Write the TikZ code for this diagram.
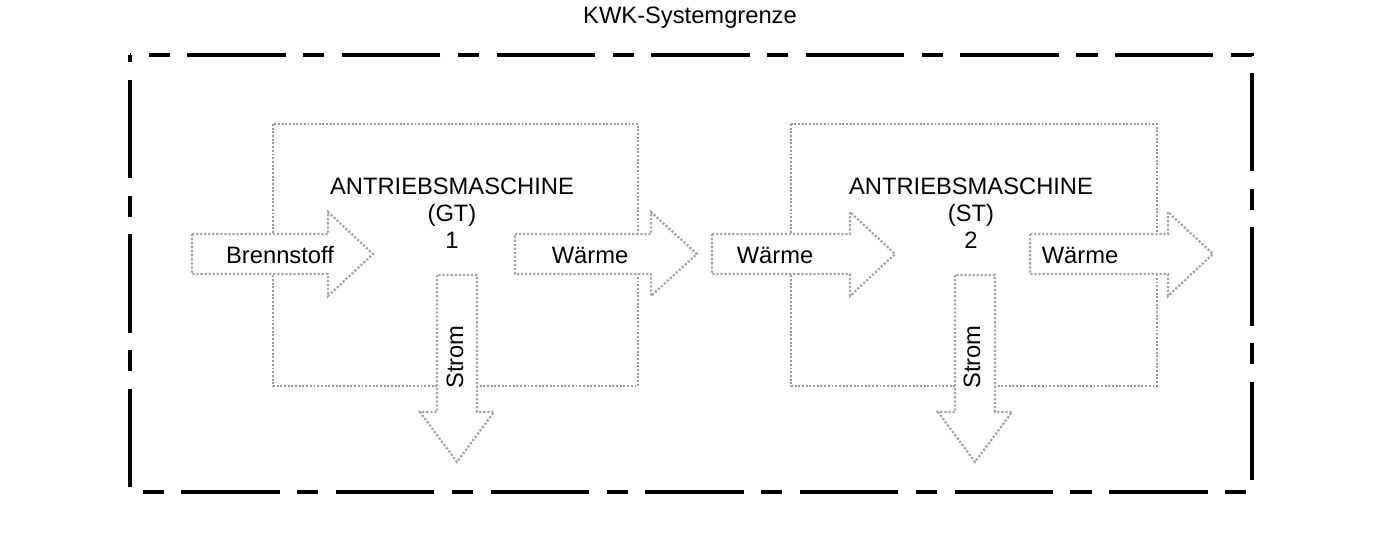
\documentclass[tikz,border=0pt]{standalone}
\usepackage{fontspec}
\setmainfont{Liberation Sans}
\usetikzlibrary{calc}

\tikzset{
  grenze/.style={line width=2.3pt, dash pattern={on 56pt off 10pt on 12pt off 10pt}, dash phase=74pt},
  maschine/.style={draw=gray!80, line width=1.1pt, densely dotted},
  strompfeil/.style={draw=gray!70, fill=white, line width=1.3pt, densely dotted, line join=miter},
  beschrift/.style={font=\fontsize{13.5}{15.5}\selectfont, inner sep=1pt}
}

% Pfeil nach rechts: Anfang, Spitze, Kopfansatz, Mitte y
\newcommand{\pfeilrechts}[4]{%
  \draw[strompfeil] (#1,#4-20) -- (#3,#4-20) -- (#3,#4-42) -- (#2,#4)
    -- (#3,#4+42) -- (#3,#4+20) -- (#1,#4+20) -- cycle;}
% Pfeil nach unten: Mitte x, Anfang, Spitze, Kopfansatz
\newcommand{\pfeilunten}[4]{%
  \draw[strompfeil] (#1-20,#2) -- (#1-20,#4) -- (#1-37,#4) -- (#1,#3)
    -- (#1+37,#4) -- (#1+20,#4) -- (#1+20,#2) -- cycle;}

\begin{document}
\begin{tikzpicture}[x=0.02cm, y=-0.02cm]
  \useasboundingbox (0,0) rectangle (1385,535);
  % Systemgrenze
  \node[beschrift] (titel) at (690,18) {KWK-Systemgrenze};
  \draw[grenze] (130,55) rectangle (1252,492);
  % Maschinen
  \draw[maschine] (273,124) rectangle (638,386);
  \draw[maschine] (791,124) rectangle (1157,386);
  \node[beschrift, align=center] (gt) at (452,213)
    {ANTRIEBSMASCHINE\\(GT)\\1};
  \node[beschrift, align=center] (st) at (971,213)
    {ANTRIEBSMASCHINE\\(ST)\\2};
  % Energiefluesse
  \pfeilrechts{192}{373}{328}{254}
  \pfeilrechts{515}{697}{651}{254}
  \pfeilrechts{712}{895}{850}{254}
  \pfeilrechts{1030}{1213}{1168}{254}
  \pfeilunten{457}{275}{462}{412}
  \pfeilunten{975}{275}{462}{412}
  \node[beschrift] (brennstoff) at (280,255) {Brennstoff};
  \node[beschrift] (waerme1) at (590,255) {Wärme};
  \node[beschrift] (waerme2) at (775,255) {Wärme};
  \node[beschrift] (waerme3) at (1080,255) {Wärme};
  \node[beschrift, rotate=90] (strom1) at (455,357) {Strom};
  \node[beschrift, rotate=90] (strom2) at (972,357) {Strom};
\end{tikzpicture}
\end{document}
